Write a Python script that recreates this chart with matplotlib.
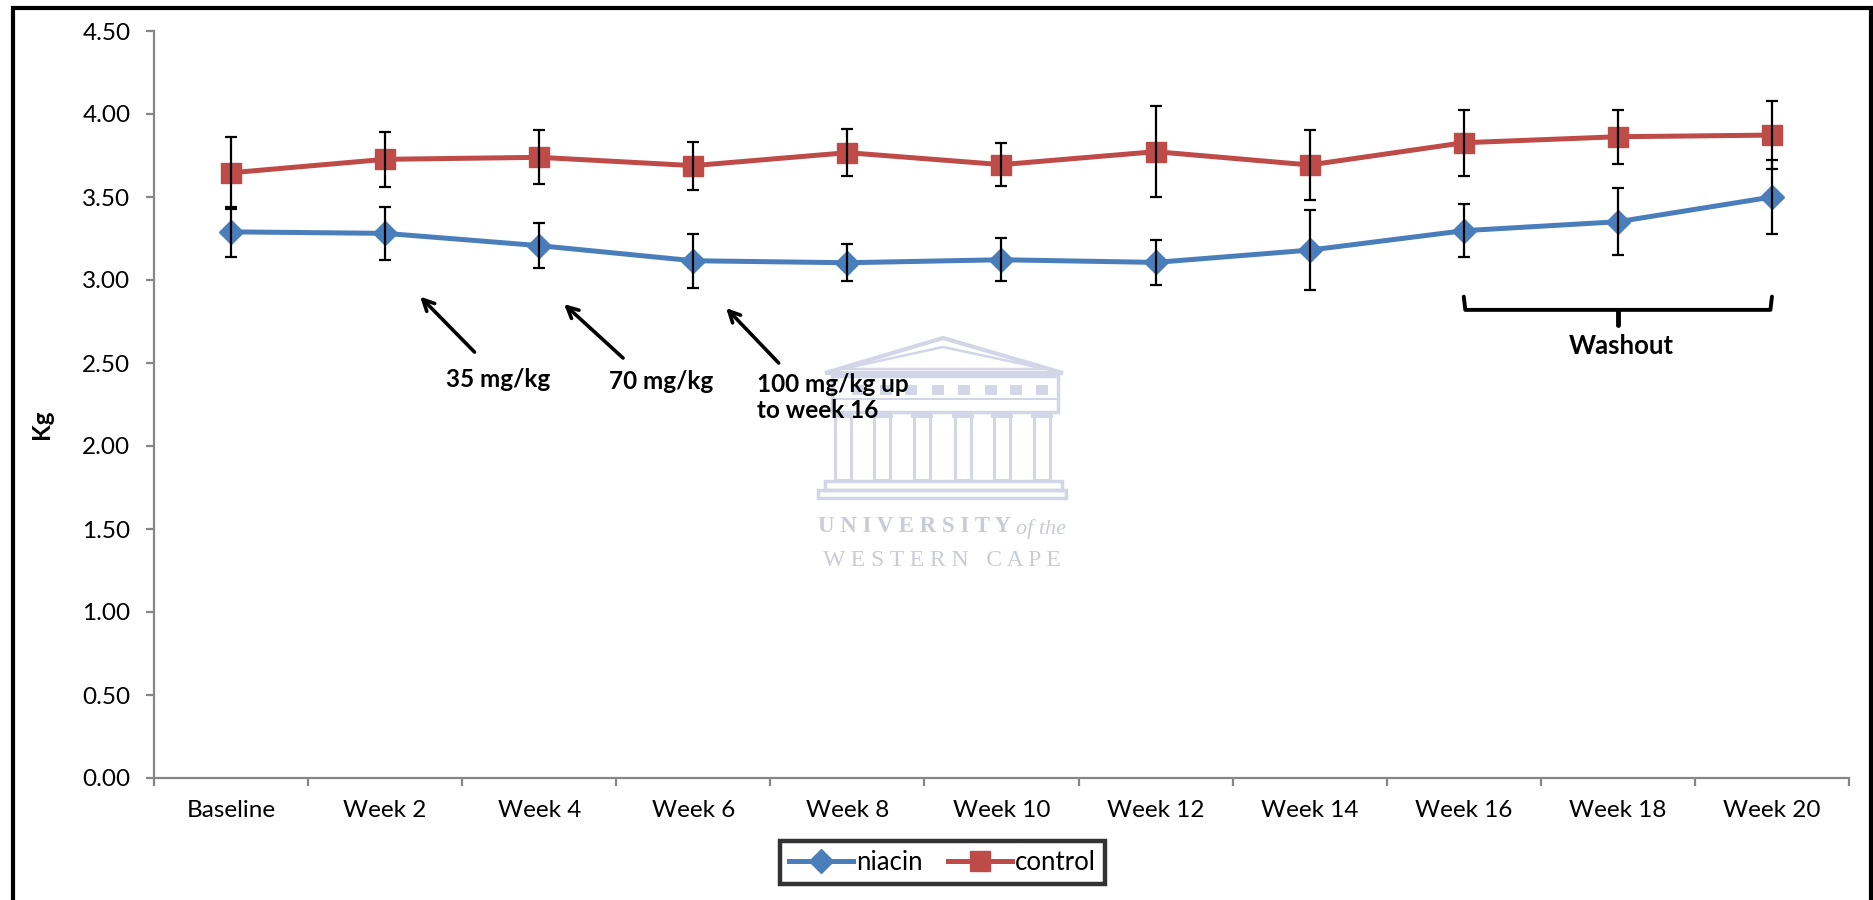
import matplotlib
matplotlib.use("Agg")
import matplotlib.pyplot as plt
import numpy as np
from matplotlib.lines import Line2D
from matplotlib.patches import Polygon, Rectangle

# ---------------- data ----------------
categories = ["Baseline", "Week 2", "Week 4", "Week 6", "Week 8", "Week 10",
              "Week 12", "Week 14", "Week 16", "Week 18", "Week 20"]
niacin = [3.29, 3.281, 3.207, 3.116, 3.104, 3.122, 3.106, 3.18, 3.297, 3.351, 3.50]
niacin_err = [0.15, 0.16, 0.137, 0.163, 0.113, 0.13, 0.135, 0.24, 0.158, 0.203, 0.22]
control = [3.646, 3.727, 3.739, 3.689, 3.767, 3.695, 3.773, 3.693, 3.827, 3.863, 3.873]
control_err = [0.217, 0.165, 0.163, 0.145, 0.14, 0.13, 0.275, 0.21, 0.20, 0.162, 0.205]
yticks = [0.0, 0.5, 1.0, 1.5, 2.0, 2.5, 3.0, 3.5, 4.0, 4.5]
dose_labels = ["35 mg/kg", "70 mg/kg", "100 mg/kg up\nto week 16"]
washout_label = "Washout"

W, H = 1874, 900
FONT = "Lato"
BLUE = "#4A7EBB"
RED = "#BE4B48"
GREY = "#868686"

plt.rcParams["font.family"] = [FONT, "DejaVu Sans"]

fig = plt.figure(figsize=(W / 100, H / 100), dpi=100)


def fx(px):
    return px / W


def fy(py):
    return 1 - py / H


# ---------------- watermark (behind the axes) ----------------
wm = "#d3d6e6"
wmt = "#c9cbd9"
tf = fig.transFigure
WZ = -5


def P(x, y):
    return (fx(x), fy(y))


def add(p):
    p.set_zorder(WZ)
    fig.patches.append(p)


# pediment
add(Polygon([P(825, 373), P(943, 338), P(1063, 373)], closed=True,
            fill=False, edgecolor=wm, lw=3, transform=tf))
add(Polygon([P(842, 369), P(943, 347), P(1046, 369)], closed=True,
            fill=False, edgecolor=wm, lw=1.8, transform=tf))
# entablature
add(Rectangle(P(832, 412), fx(1058) - fx(832), fy(376) - fy(412),
              fill=False, edgecolor=wm, lw=2.5, transform=tf))
add(Rectangle(P(832, 400), fx(1058) - fx(832), fy(398) - fy(400),
              facecolor=wm, edgecolor="none", transform=tf))
for wx in [852, 880, 905, 932, 958, 985, 1010, 1036]:
    add(Rectangle(P(wx, 395), fx(12) - fx(0), fy(385) - fy(395),
                  facecolor=wm, edgecolor="none", transform=tf))
# columns
for cx in [843, 882, 922, 963, 1002, 1042]:
    add(Rectangle(P(cx - 8, 480), fx(16) - fx(0), fy(414) - fy(480),
                  fill=False, edgecolor=wm, lw=2.2, transform=tf))
    add(Rectangle(P(cx - 11, 418), fx(22) - fx(0), fy(413) - fy(418),
                  facecolor=wm, edgecolor="none", transform=tf))
# base steps
add(Rectangle(P(825, 490), fx(1062) - fx(825), fy(481) - fy(490),
              fill=False, edgecolor=wm, lw=2.5, transform=tf))
add(Rectangle(P(818, 498), fx(1066) - fx(818), fy(490) - fy(498),
              fill=False, edgecolor=wm, lw=2.5, transform=tf))
fig.text(fx(818), fy(527), "U N I V E R S I T Y", color=wmt, fontsize=16.5,
         family="Liberation Serif", fontweight="bold", ha="left", va="center", zorder=WZ)
fig.text(fx(1066), fy(529), "of the", color=wmt, fontsize=16, family="Liberation Serif",
         style="italic", ha="right", va="center", zorder=WZ)
fig.text(fx(942), fy(560), "W E S T E R N   C A P E", color=wmt, fontsize=17,
         family="Liberation Serif", ha="center", va="center", zorder=WZ)

# ---------------- axes ----------------
ax = fig.add_axes([fx(154), fy(778), fx(1849) - fx(154), fy(31) - fy(778)])
ax.patch.set_alpha(0)

x = np.arange(len(categories))
ax.plot(x, niacin, color=BLUE, lw=3.6, marker="D", ms=12.5, label="niacin", zorder=3)
ax.plot(x, control, color=RED, lw=3.6, marker="s", ms=14, label="control", zorder=3)
ax.errorbar(x, niacin, yerr=niacin_err, fmt="none", ecolor="black", elinewidth=1.6,
            capsize=4.6, capthick=1.6, zorder=4)
ax.errorbar(x, control, yerr=control_err, fmt="none", ecolor="black", elinewidth=1.6,
            capsize=4.6, capthick=1.6, zorder=4)

ax.set_xlim(-0.5, len(categories) - 0.5)
ax.set_ylim(0, 4.5)
ax.set_yticks(yticks)
ax.set_yticklabels([f"{v:.2f}" for v in yticks])
ax.set_xticks(np.arange(len(categories) + 1) - 0.5)
ax.set_xticklabels([])
ax.set_xticks(x, minor=True)
ax.set_xticklabels(categories, minor=True)

for s in ["top", "right"]:
    ax.spines[s].set_visible(False)
for s in ["left", "bottom"]:
    ax.spines[s].set_color(GREY)
    ax.spines[s].set_linewidth(1.6)
ax.tick_params(axis="y", direction="out", length=6, width=1.6, color=GREY,
               labelsize=17.5, pad=11, labelcolor="black")
ax.tick_params(axis="x", which="major", direction="out", length=6, width=1.6, color=GREY)
ax.tick_params(axis="x", which="minor", length=0, labelsize=17.5, pad=16)

# ---------------- annotations ----------------
arrow_heads = [(1.227, 2.90), (2.161, 2.855), (3.213, 2.831)]
arrow_tails = [(1.58, 2.566), (2.544, 2.53), (3.554, 2.50)]
for h, t in zip(arrow_heads, arrow_tails):
    ax.annotate("", xy=h, xytext=t,
                arrowprops=dict(arrowstyle="->,head_length=0.8,head_width=0.4",
                                color="black", lw=2.6, shrinkA=0, shrinkB=0))
text_pos = [(1.392, 2.40), (2.453, 2.386), (3.414, 2.29)]
for (tx, ty), lab in zip(text_pos, dose_labels):
    ax.text(tx, ty, lab, fontsize=17.5, fontweight="bold", ha="left", va="center",
            linespacing=1.15)

# washout bracket
ax.plot([8, 8.01, 9], [2.90, 2.82, 2.82], color="black", lw=2.8, solid_joinstyle="round",
        solid_capstyle="round")
ax.plot([9, 9.99, 10], [2.82, 2.82, 2.90], color="black", lw=2.8, solid_joinstyle="round",
        solid_capstyle="round")
ax.plot([9, 9], [2.82, 2.73], color="black", lw=3.5, solid_capstyle="round")
ax.text(9.02, 2.60, washout_label, fontsize=18.5, fontweight="bold", ha="center", va="center")

# y label
fig.text(fx(42), fy(424), "Kg", rotation=90, fontsize=17.5, fontweight="bold",
         ha="center", va="center")

# legend
leg = fig.legend(loc="center", bbox_to_anchor=(fx(942.5), fy(862.5)), ncol=2,
                 fontsize=18.5, frameon=True, fancybox=False, handlelength=2.5,
                 columnspacing=1.0, handletextpad=0.1, borderpad=0.35)
leg.get_frame().set_edgecolor("black")
leg.get_frame().set_linewidth(3.2)

# outer frame (left, top, right)
fig.lines.append(Line2D([fx(13), fx(13), fx(1871), fx(1871)],
                        [fy(900), fy(8.3), fy(8.3), fy(900)],
                        transform=tf, color="black", lw=3.0, solid_joinstyle="miter"))

fig.savefig("out.png", dpi=100)
